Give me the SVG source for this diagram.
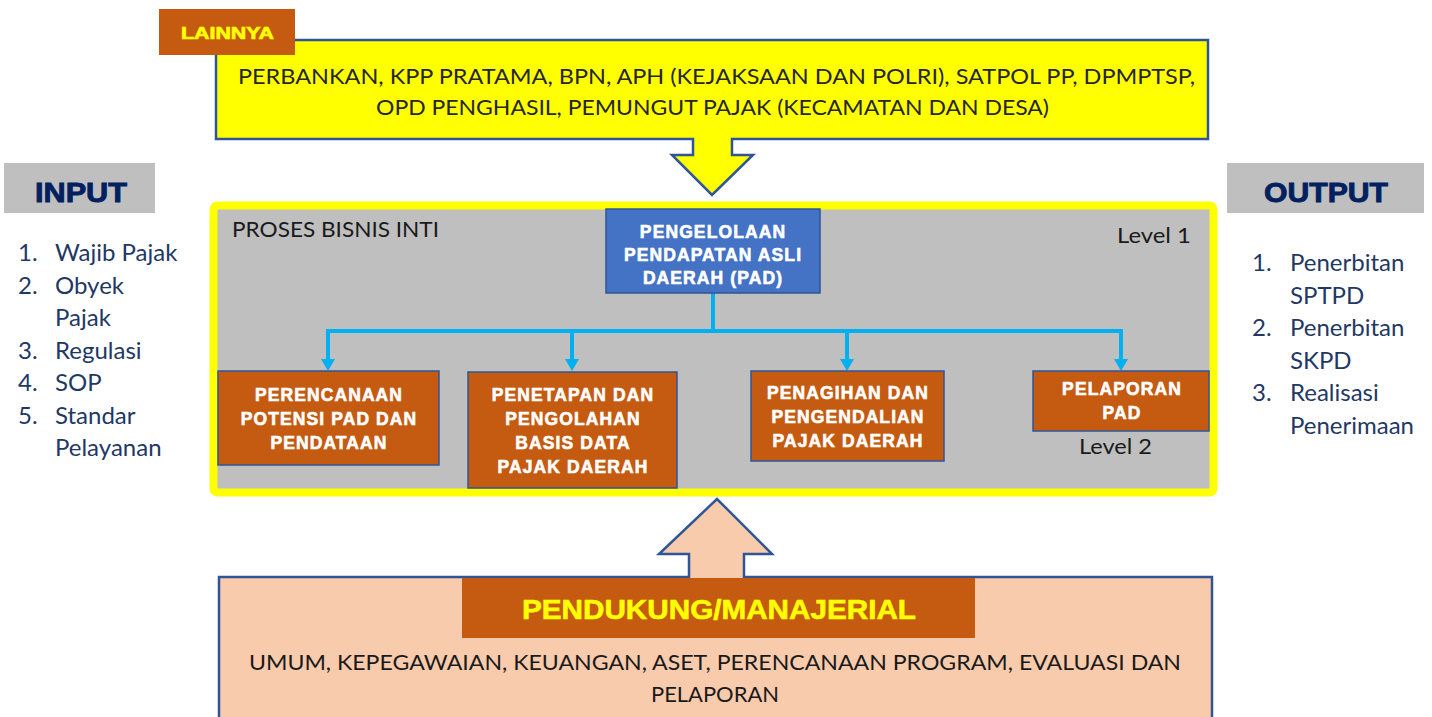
<svg xmlns="http://www.w3.org/2000/svg" width="1432" height="717" viewBox="0 0 1432 717">
<style>
.cal{font-family:Lato,"Open Sans","Liberation Sans",sans-serif;}
.box{font-family:"Liberation Sans",Arial,sans-serif;font-weight:bold;font-size:17.5px;letter-spacing:1.1px;fill:#FFFFFF;stroke:#FFFFFF;stroke-width:0.6;text-anchor:middle;}
.orange{fill:#C55A11;stroke:#2F5597;stroke-width:1.5;}
.head{font-family:"Liberation Sans",Arial,sans-serif;font-weight:bold;font-size:28px;fill:#002060;stroke:#002060;stroke-width:0.9;text-anchor:middle;}
.list{font-family:Lato,"Open Sans","Liberation Sans",sans-serif;font-size:24px;fill:#1F3864;}
.conn{stroke:#00B0F0;stroke-width:4;fill:none;}
</style>
<rect width="1432" height="717" fill="#FFFFFF"/>

<g id="lainnya">
<path d="M216,40 H1208 V139 H732 V155 H753 L712,195 L672,155 H693 V139 H216 Z" fill="#FFFF00" stroke="#2F5597" stroke-width="2.5"/>
<rect x="159" y="9" width="136" height="46" fill="#C55A11"/>
<text x="227.5" y="39" font-family="'Liberation Sans',Arial,sans-serif" font-weight="bold" font-size="17" fill="#FFFF00" text-anchor="middle" textLength="93" lengthAdjust="spacingAndGlyphs" stroke="#FFFF00" stroke-width="0.7">LAINNYA</text>
<text class="cal" x="716.5" y="84" font-size="21" fill="#262626" text-anchor="middle" textLength="957" lengthAdjust="spacingAndGlyphs">PERBANKAN, KPP PRATAMA, BPN, APH (KEJAKSAAN DAN POLRI), SATPOL PP, DPMPTSP,</text>
<text class="cal" x="712.5" y="115" font-size="21" fill="#262626" text-anchor="middle" textLength="673" lengthAdjust="spacingAndGlyphs">OPD PENGHASIL, PEMUNGUT PAJAK (KECAMATAN DAN DESA)</text>
</g>

<g id="input">
<rect x="4" y="163" width="151" height="50" fill="#BFBFBF"/>
<text class="head" x="81" y="202" textLength="92" lengthAdjust="spacingAndGlyphs">INPUT</text>
<g class="list">
<text x="18" y="261">1.</text><text x="55" y="261">Wajib Pajak</text>
<text x="18" y="293.5">2.</text><text x="55" y="293.5">Obyek</text>
<text x="55" y="326">Pajak</text>
<text x="18" y="358.5">3.</text><text x="55" y="358.5">Regulasi</text>
<text x="18" y="391">4.</text><text x="55" y="391">SOP</text>
<text x="18" y="423.5">5.</text><text x="55" y="423.5">Standar</text>
<text x="55" y="456">Pelayanan</text>
</g>
</g>

<g id="output">
<rect x="1227" y="163" width="197" height="50" fill="#BFBFBF"/>
<text class="head" x="1326" y="202" textLength="124" lengthAdjust="spacingAndGlyphs">OUTPUT</text>
<g class="list">
<text x="1252" y="271">1.</text><text x="1290" y="271">Penerbitan</text>
<text x="1290" y="303.5">SPTPD</text>
<text x="1252" y="336">2.</text><text x="1290" y="336">Penerbitan</text>
<text x="1290" y="368.5">SKPD</text>
<text x="1252" y="401">3.</text><text x="1290" y="401">Realisasi</text>
<text x="1290" y="433.5">Penerimaan</text>
</g>
</g>

<g id="proses">
<rect x="213.5" y="205.5" width="1000" height="287" rx="4" fill="#BFBFBF" stroke="#FFFF00" stroke-width="8"/>
<text class="cal" x="232" y="237" font-size="21" fill="#1A1A1A" textLength="207" lengthAdjust="spacingAndGlyphs">PROSES BISNIS INTI</text>
<text class="cal" x="1117" y="243" font-size="21" fill="#1A1A1A" textLength="74" lengthAdjust="spacingAndGlyphs">Level 1</text>
<text class="cal" x="1079" y="454" font-size="21" fill="#1A1A1A" textLength="73" lengthAdjust="spacingAndGlyphs">Level 2</text>
</g>

<g id="connectors">
<path class="conn" d="M713,293 V331"/>
<path class="conn" d="M326,331 H1123"/>
<path class="conn" d="M328,331 V360"/>
<path class="conn" d="M572,331 V360"/>
<path class="conn" d="M847,331 V360"/>
<path class="conn" d="M1121,331 V360"/>
<path d="M321,359 H335 L328,371 Z M565,359 H579 L572,371 Z M840,359 H854 L847,371 Z M1114,359 H1128 L1121,371 Z" fill="#00B0F0"/>
</g>

<g id="pad">
<rect x="606" y="209" width="214" height="84" fill="#4472C4" stroke="#2F5597" stroke-width="1.5"/>
<text class="box" x="713" y="238">PENGELOLAAN</text>
<text class="box" x="713" y="261">PENDAPATAN ASLI</text>
<text class="box" x="713" y="284">DAERAH (PAD)</text>
</g>

<g id="perencanaan">
<rect class="orange" x="218" y="371" width="221" height="94"/>
<text class="box" x="329" y="401">PERENCANAAN</text>
<text class="box" x="329" y="425">POTENSI PAD DAN</text>
<text class="box" x="329" y="449">PENDATAAN</text>
</g>

<g id="penetapan">
<rect class="orange" x="468" y="372" width="209" height="116"/>
<text class="box" x="573" y="401">PENETAPAN DAN</text>
<text class="box" x="573" y="425">PENGOLAHAN</text>
<text class="box" x="573" y="449">BASIS DATA</text>
<text class="box" x="573" y="473">PAJAK DAERAH</text>
</g>

<g id="penagihan">
<rect class="orange" x="751" y="371" width="193" height="90"/>
<text class="box" x="848" y="399">PENAGIHAN DAN</text>
<text class="box" x="848" y="423">PENGENDALIAN</text>
<text class="box" x="848" y="447">PAJAK DAERAH</text>
</g>

<g id="pelaporan">
<rect class="orange" x="1033" y="371" width="176" height="60"/>
<text class="box" x="1122" y="395">PELAPORAN</text>
<text class="box" x="1122" y="419">PAD</text>
</g>

<g id="pendukung">
<path d="M219,577 H689 V554 H659 L717,499 L772,554 H744 V577 H1212 V720 H219 Z" fill="#F8CBAD" stroke="#2F5597" stroke-width="2.5"/>
<rect x="462" y="578" width="513" height="60" fill="#C55A11"/>
<text x="719" y="619" font-family="'Liberation Sans',Arial,sans-serif" font-weight="bold" font-size="28" fill="#FFFF00" stroke="#FFFF00" stroke-width="0.6" text-anchor="middle" textLength="394" lengthAdjust="spacingAndGlyphs">PENDUKUNG/MANAJERIAL</text>
<text class="cal" x="715" y="670" font-size="21" fill="#1A1A1A" text-anchor="middle" textLength="932" lengthAdjust="spacingAndGlyphs">UMUM, KEPEGAWAIAN, KEUANGAN, ASET, PERENCANAAN PROGRAM, EVALUASI DAN</text>
<text class="cal" x="715" y="702" font-size="21" fill="#1A1A1A" text-anchor="middle" textLength="128" lengthAdjust="spacingAndGlyphs">PELAPORAN</text>
</g>
</svg>
